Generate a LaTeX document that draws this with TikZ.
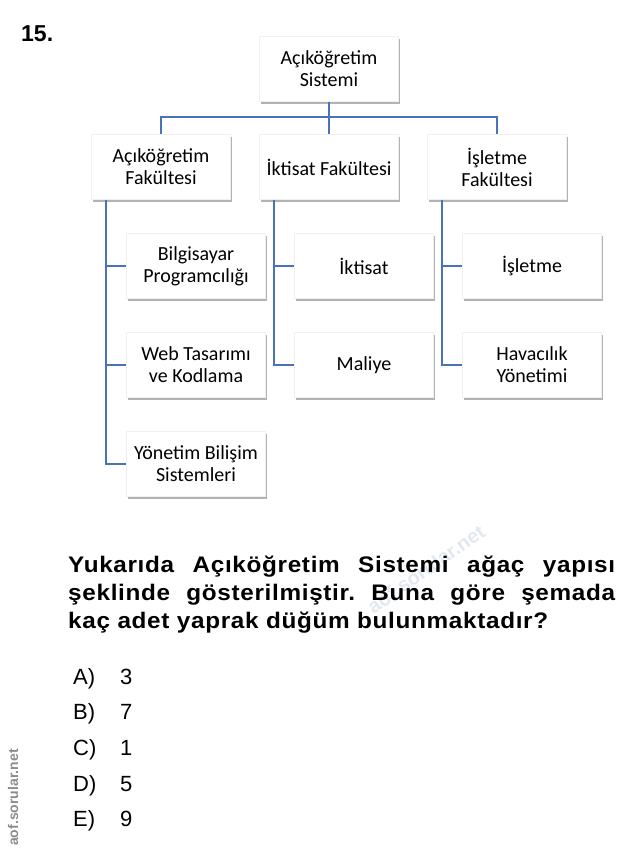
\documentclass[tikz,border=0pt]{standalone}
\usepackage{fontspec}
\setmainfont{Liberation Sans}
\newfontfamily\boxfont{Carlito}
\newfontfamily\qfont[FakeStretch=1.08,LetterSpace=3]{Liberation Sans}
\usepackage{tikz}
\usetikzlibrary{
	positioning,
	calc,
	shadows
}
\usepackage{xcolor}
\definecolor{linkblue}{HTML}{4A72B8}
\definecolor{markgray}{HTML}{8C8C8C}
\definecolor{faintmark}{HTML}{E2E8EF}
\frenchspacing

\newcommand{\fullline}[1]{\makebox[547pt][s]{#1}}

\tikzset{
	unitbox/.style={fill=white, draw=black!6, minimum width=139pt, minimum height=65pt,
		align=center, inner sep=2pt,
		font=\boxfont\fontsize{20}{22}\selectfont,
		drop shadow={shadow xshift=1pt, shadow yshift=-2.5pt, opacity=0.3, fill=black}},
	link/.style={draw=linkblue, line width=1.6pt},
	qline/.style={anchor=base west, inner sep=0pt, font=\qfont\bfseries\fontsize{22.5}{22.5}\selectfont},
	choice/.style={anchor=base west, inner sep=0pt, font=\fontsize{22}{22}\selectfont}
}

\begin{document}
\begin{tikzpicture}[x=1pt,y=-1pt]
		
		\useasboundingbox (0,0) rectangle (640,856);
		
		% question number
		\node[anchor=base west, inner sep=0pt, font=\bfseries\fontsize{23}{23}\selectfont] (qnum) at (21,42) {15.};
		
		% root
		\node[unitbox] (root) at (329,69) {Açıköğretim\\Sistemi};
		
		% faculties
		\node[unitbox] (facA) at (161,167) {Açıköğretim\\Fakültesi};
		\node[unitbox] (facI) at (329,167) {İktisat Fakültesi};
		\node[unitbox] (facS) at (497,167) {İşletme\\Fakültesi};
		
		% programmes
		\node[unitbox] (bp) at (196,266) {Bilgisayar\\Programcılığı};
		\node[unitbox] (wt) at (196,365) {Web Tasarımı\\ve Kodlama};
		\node[unitbox] (ybs) at (196,464) {Yönetim Bilişim\\Sistemleri};
		\node[unitbox] (ikt) at (364,266) {İktisat};
		\node[unitbox] (mal) at (364,365) {Maliye};
		\node[unitbox] (isl) at (532,266) {İşletme};
		\node[unitbox] (hav) at (532,365) {Havacılık\\Yönetimi};
		
		\draw[link] (root.south) -- ++(0,15.5) coordinate (bus);
		\draw[link] (facA.north) |- (bus) -| (facS.north);
		\draw[link] (bus) -- (facI.north);
		
		\foreach \fac/\prog in {facA/bp,facA/wt,facA/ybs,facI/ikt,facI/mal,facS/isl,facS/hav}
		\draw[link] ([xshift=14.5pt]\fac.south west) |- (\prog.west);
		
		% watermark behind the question
		\node[rotate=35, inner sep=0pt, text=faintmark,
			font=\bfseries\fontsize{20}{20}\selectfont] (faint) at (426,569) {aof.sorular.net};
		
		% question text
		\node[qline] (qline1) at (68,572) {\fullline{Yukarıda Açıköğretim Sistemi ağaç yapısı}};
		\node[qline] (qline2) at (68,600) {\fullline{şeklinde gösterilmiştir. Buna göre şemada}};
		\node[qline] (qline3) at (68,628) {kaç adet yaprak düğüm bulunmaktadır?};
		
		% options
		\foreach \lab/\val [count=\i from 0] in {A/3,B/7,C/1,D/5,E/9}
		{
			\node[choice] (opt\lab) at (73,684+35.7*\i) {\lab)};
			\node[choice] (val\lab) at (120,684+35.7*\i) {\val};
		}
		
		% side watermark
		\node[rotate=90, anchor=base west, inner sep=0pt, text=markgray,
			font=\bfseries\fontsize{14}{14}\selectfont] (mark) at (18,846) {aof.sorular.net};
		
	\end{tikzpicture}
\end{document}
